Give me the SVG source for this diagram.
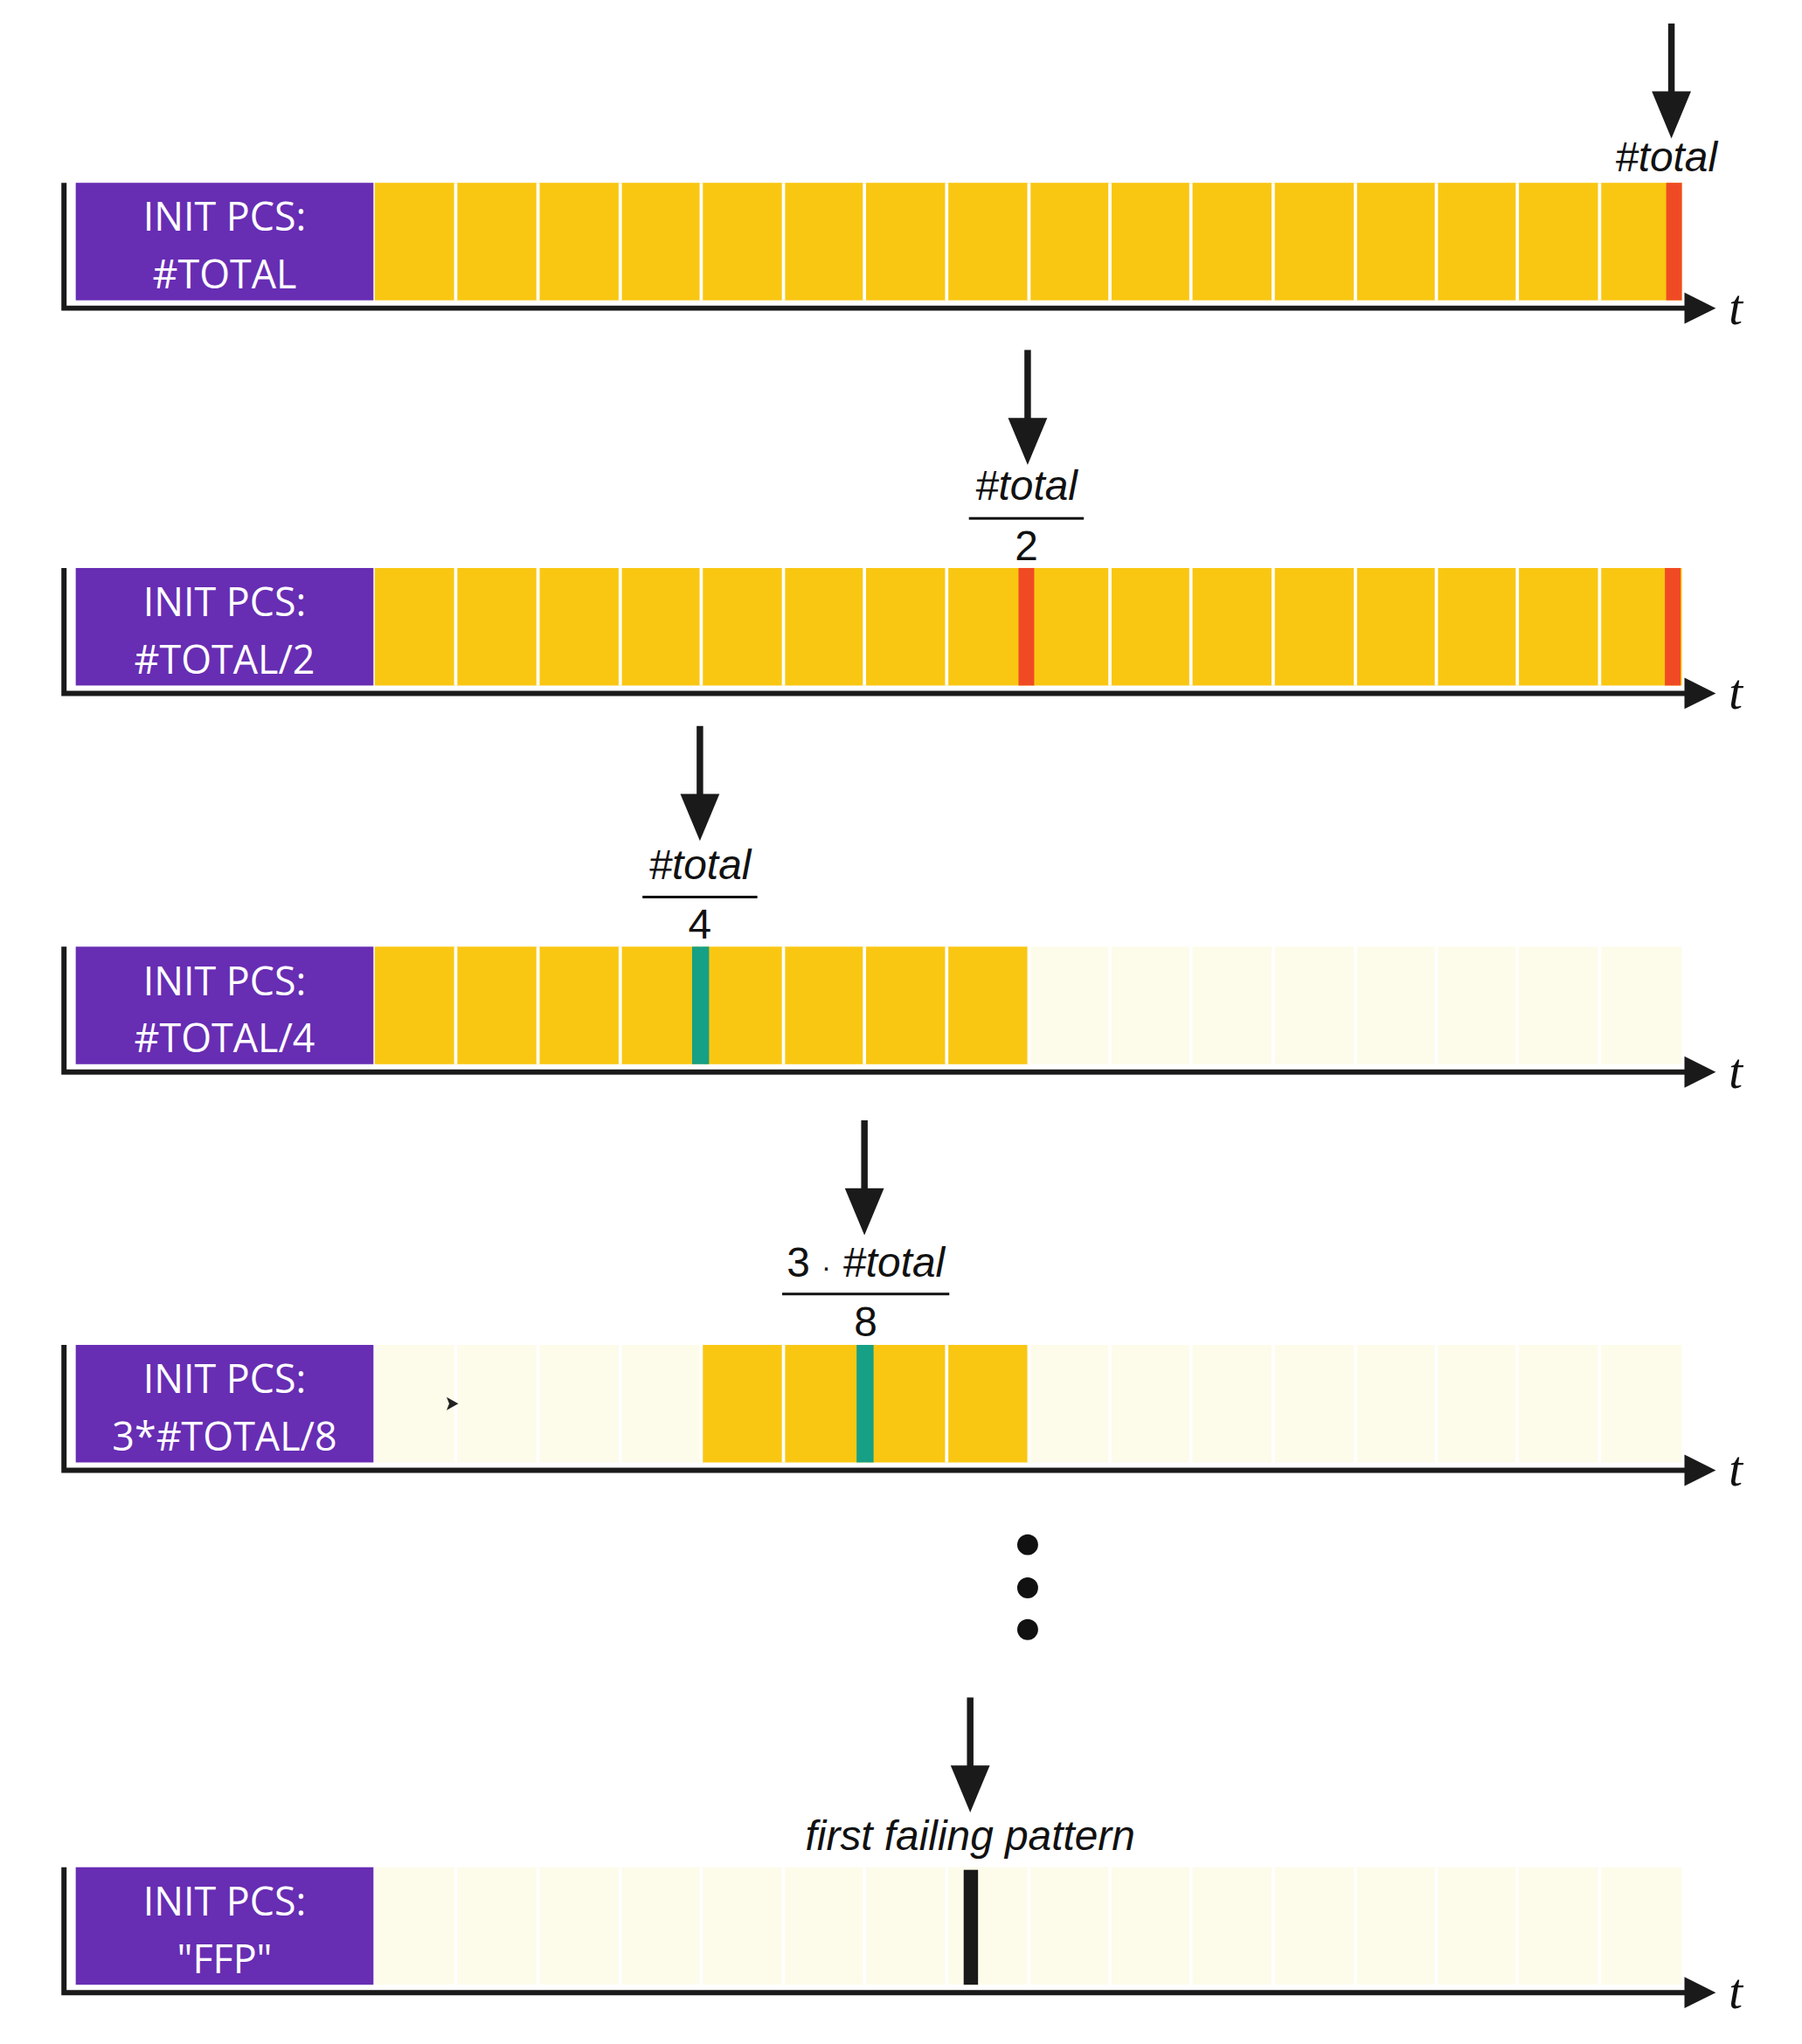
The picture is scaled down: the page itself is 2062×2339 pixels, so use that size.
<svg xmlns="http://www.w3.org/2000/svg" width="2062" height="2339" viewBox="0 0 2062 2339">
<style>
.y{fill:#f9c712}.p{fill:#fdfbea}.sep{stroke:#fff;stroke-width:2.5}
.box{fill:#672db3}
.bt{fill:#fff;font-family:"Open Sans","Noto Sans",sans-serif;font-size:30px;text-anchor:middle}
.ax{stroke:#1a1a1a;stroke-width:4;fill:none}
.lab{font-family:"Liberation Sans",Arial,sans-serif;font-size:32px;text-anchor:middle;fill:#111}
.it{font-style:italic}
.tt{font-family:"Liberation Serif",serif;font-style:italic;font-size:38px;fill:#111}
</style>
<defs>
<g id="cellsY">
<rect x="287" y="0" width="1001" height="90" class="y"/>
</g>
<g id="seps">
<path class="sep" d="M349,0V90M412,0V90M475,0V90M537,0V90M600,0V90M662,0V90M725,0V90M788,0V90M850,0V90M912,0V90M975,0V90M1038,0V90M1100,0V90M1162,0V90M1225,0V90"/>
</g>
<g id="axis">
<path class="ax" d="M49,0V96M47,96H1292"/>
<path d="M1290,84L1314,96L1290,108Z" fill="#1a1a1a"/>
</g>
<g id="darr">
<rect x="-2.5" y="0" width="5" height="55" fill="#1a1a1a"/>
<path d="M-15,52L15,52L0,88Z" fill="#1a1a1a"/>
</g>
</defs>
<g transform="scale(1.4942)">
<g id="row1" transform="translate(0,140)">
<use href="#cellsY"/><use href="#seps"/>
<rect x="1276" y="0" width="12" height="90" fill="#f04a24"/>
<rect x="58" y="0" width="228" height="90" class="box"/>
<text class="bt" x="172" y="37">INIT PCS:</text><text class="bt" x="172" y="81">#TOTAL</text>
<use href="#axis"/><text class="tt" x="1324" y="108">t</text>
</g>
<g id="row2" transform="translate(0,435)">
<use href="#cellsY"/><use href="#seps"/>
<rect x="780" y="0" width="12" height="90" fill="#f04a24"/>
<rect x="1275" y="0" width="12" height="90" fill="#f04a24"/>
<rect x="58" y="0" width="228" height="90" class="box"/>
<text class="bt" x="172" y="37">INIT PCS:</text><text class="bt" x="172" y="81">#TOTAL/2</text>
<use href="#axis"/><text class="tt" x="1324" y="108">t</text>
</g>
<g id="row3" transform="translate(0,725)">
<rect x="287" y="0" width="1001" height="90" class="p"/>
<rect x="287" y="0" width="501" height="90" class="y"/>
<use href="#seps"/>
<rect x="530" y="0" width="13" height="90" fill="#16a085"/>
<rect x="58" y="0" width="228" height="90" class="box"/>
<text class="bt" x="172" y="37">INIT PCS:</text><text class="bt" x="172" y="81">#TOTAL/4</text>
<use href="#axis"/><text class="tt" x="1324" y="108">t</text>
</g>
<g id="row4" transform="translate(0,1030)">
<rect x="287" y="0" width="1001" height="90" class="p"/>
<rect x="538" y="0" width="250" height="90" class="y"/>
<use href="#seps"/>
<rect x="656" y="0" width="13" height="90" fill="#16a085"/>
<path d="M342,40L351,45L342,50L344,45Z" fill="#222"/>
<rect x="58" y="0" width="228" height="90" class="box"/>
<text class="bt" x="172" y="37">INIT PCS:</text><text class="bt" x="172" y="81">3*#TOTAL/8</text>
<use href="#axis"/><text class="tt" x="1324" y="108">t</text>
</g>
<g id="row5" transform="translate(0,1430)">
<rect x="287" y="0" width="1001" height="90" class="p"/>
<use href="#seps"/>
<rect x="738" y="2" width="11" height="88" fill="#1a1a1a"/>
<rect x="58" y="0" width="228" height="90" class="box"/>
<text class="bt" x="172" y="37">INIT PCS:</text><text class="bt" x="172" y="81">"FFP"</text>
<use href="#axis"/><text class="tt" x="1324" y="108">t</text>
</g>
<g id="connectors">
<use href="#darr" x="1280" y="18"/>
<use href="#darr" x="787" y="268"/>
<use href="#darr" x="536" y="556"/>
<use href="#darr" x="662" y="858"/>
<use href="#darr" x="743" y="1300"/>
</g>
<g id="labels">
<text class="lab it" x="1276" y="131">#total</text>
<text class="lab it" x="786" y="383">#total</text>
<rect x="742" y="396" width="88" height="2" fill="#111"/>
<text class="lab" x="786" y="429">2</text>
<text class="lab it" x="536" y="673">#total</text>
<rect x="492" y="686" width="88" height="2" fill="#111"/>
<text class="lab" x="536" y="719">4</text>
<text class="lab" x="663" y="978">3 <tspan font-size="22">·</tspan> <tspan font-style="italic">#total</tspan></text>
<rect x="599" y="990" width="128" height="2" fill="#111"/>
<text class="lab" x="663" y="1023">8</text>
<text class="lab it" x="743" y="1417">first  failing  pattern</text>
</g>
<g id="dots" fill="#111">
<circle cx="787" cy="1183" r="8"/><circle cx="787" cy="1216" r="8"/><circle cx="787" cy="1248" r="8"/>
</g>
</g>
</svg>
